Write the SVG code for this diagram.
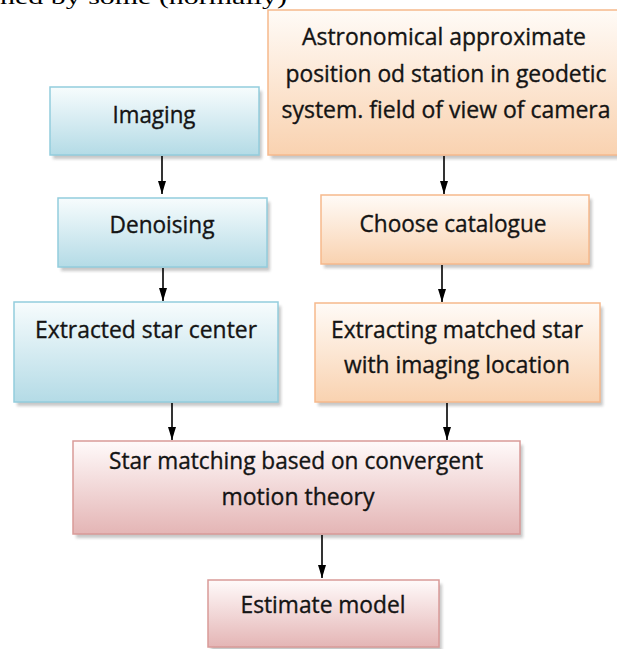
<svg xmlns="http://www.w3.org/2000/svg" width="617" height="649" viewBox="0 0 617 649">
  <defs>
    <linearGradient id="gBlue" x1="0" y1="0" x2="0" y2="1">
      <stop offset="0" stop-color="#f7fcfd"/>
      <stop offset="1" stop-color="#b4dbe6"/>
    </linearGradient>
    <linearGradient id="gOrange" x1="0" y1="0" x2="0" y2="1">
      <stop offset="0" stop-color="#fffbf7"/>
      <stop offset="1" stop-color="#f9d2b0"/>
    </linearGradient>
    <linearGradient id="gPink" x1="0" y1="0" x2="0" y2="1">
      <stop offset="0" stop-color="#fffafa"/>
      <stop offset="1" stop-color="#e4b5b5"/>
    </linearGradient>
    <filter id="shadow" x="-10%" y="-10%" width="130%" height="130%">
      <feGaussianBlur stdDeviation="1.5"/>
    </filter>
    <marker id="arrow" markerUnits="userSpaceOnUse" markerWidth="14" markerHeight="10" refX="13" refY="5" orient="auto">
      <path d="M0,1 L13,5 L0,9 z" fill="#000"/>
    </marker>
  </defs>
  <style>
    .sh { fill: #9a9a9a; opacity: 0.55; filter: url(#shadow); }
    .blue { fill: url(#gBlue); stroke: #93cddd; stroke-width: 1.5; }
    .orange { fill: url(#gOrange); stroke: #f6b98c; stroke-width: 1.5; }
    .pink { fill: url(#gPink); stroke: #d99a98; stroke-width: 1.5; }
    .t { font-family: "Open Sans", "Liberation Sans", Arial, sans-serif; font-size: 23px; fill: #141414; stroke: #141414; stroke-width: 0.35; text-anchor: middle; }
    .body { font-family: "Liberation Serif", "Times New Roman", serif; font-size: 22px; fill: #000; }
    .conn line { stroke: #000; stroke-width: 1.6; marker-end: url(#arrow); }
  </style>

  <text class="body" x="0" y="4" textLength="287" lengthAdjust="spacingAndGlyphs">ned  by  some  (normally)</text>

  <g id="imaging">
    <rect class="sh" x="53" y="91" width="209" height="68"/>
    <rect class="blue" x="50" y="87" width="209" height="68"/>
    <text class="t" x="154" y="123" textLength="83" lengthAdjust="spacingAndGlyphs">Imaging</text>
  </g>

  <g id="astronomical">
    <rect class="sh" x="271" y="14" width="356" height="145"/>
    <rect class="orange" x="268" y="10" width="356" height="145"/>
    <text class="t" x="444" y="45" textLength="284" lengthAdjust="spacingAndGlyphs">Astronomical approximate</text>
    <text class="t" x="446" y="82" textLength="321" lengthAdjust="spacingAndGlyphs">position od station in geodetic</text>
    <text class="t" x="446" y="118" textLength="329" lengthAdjust="spacingAndGlyphs">system. field of view of camera</text>
  </g>

  <g id="denoising">
    <rect class="sh" x="61" y="202" width="209" height="69"/>
    <rect class="blue" x="58" y="198" width="209" height="69"/>
    <text class="t" x="162" y="233" textLength="105" lengthAdjust="spacingAndGlyphs">Denoising</text>
  </g>

  <g id="choose">
    <rect class="sh" x="324" y="199" width="268" height="69"/>
    <rect class="orange" x="321" y="195" width="268" height="69"/>
    <text class="t" x="453" y="232" textLength="187" lengthAdjust="spacingAndGlyphs">Choose catalogue</text>
  </g>

  <g id="extracted">
    <rect class="sh" x="17" y="306" width="264" height="100"/>
    <rect class="blue" x="14" y="302" width="264" height="100"/>
    <text class="t" x="146" y="338" textLength="222" lengthAdjust="spacingAndGlyphs">Extracted star center</text>
  </g>

  <g id="extracting">
    <rect class="sh" x="318" y="307" width="285" height="99"/>
    <rect class="orange" x="315" y="303" width="285" height="99"/>
    <text class="t" x="457" y="338" textLength="252" lengthAdjust="spacingAndGlyphs">Extracting matched star</text>
    <text class="t" x="457" y="373" textLength="226" lengthAdjust="spacingAndGlyphs">with imaging location</text>
  </g>

  <g id="matching">
    <rect class="sh" x="76" y="445" width="447" height="93"/>
    <rect class="pink" x="73" y="441" width="447" height="93"/>
    <text class="t" x="296" y="469" textLength="374" lengthAdjust="spacingAndGlyphs">Star matching based on convergent</text>
    <text class="t" x="298" y="505" textLength="153" lengthAdjust="spacingAndGlyphs">motion theory</text>
  </g>

  <g id="estimate">
    <rect class="sh" x="211" y="584" width="231" height="67"/>
    <rect class="pink" x="208" y="580" width="231" height="67"/>
    <text class="t" x="323" y="613" textLength="165" lengthAdjust="spacingAndGlyphs">Estimate model</text>
  </g>

  <g id="connectors" class="conn">
    <line x1="162" y1="156" x2="162" y2="194"/>
    <line x1="163" y1="268" x2="163" y2="301"/>
    <line x1="444" y1="156" x2="444" y2="194"/>
    <line x1="442" y1="265" x2="442" y2="302"/>
    <line x1="172" y1="403" x2="172" y2="440"/>
    <line x1="447" y1="403" x2="447" y2="440"/>
    <line x1="322" y1="535" x2="322" y2="578"/>
  </g>
</svg>
